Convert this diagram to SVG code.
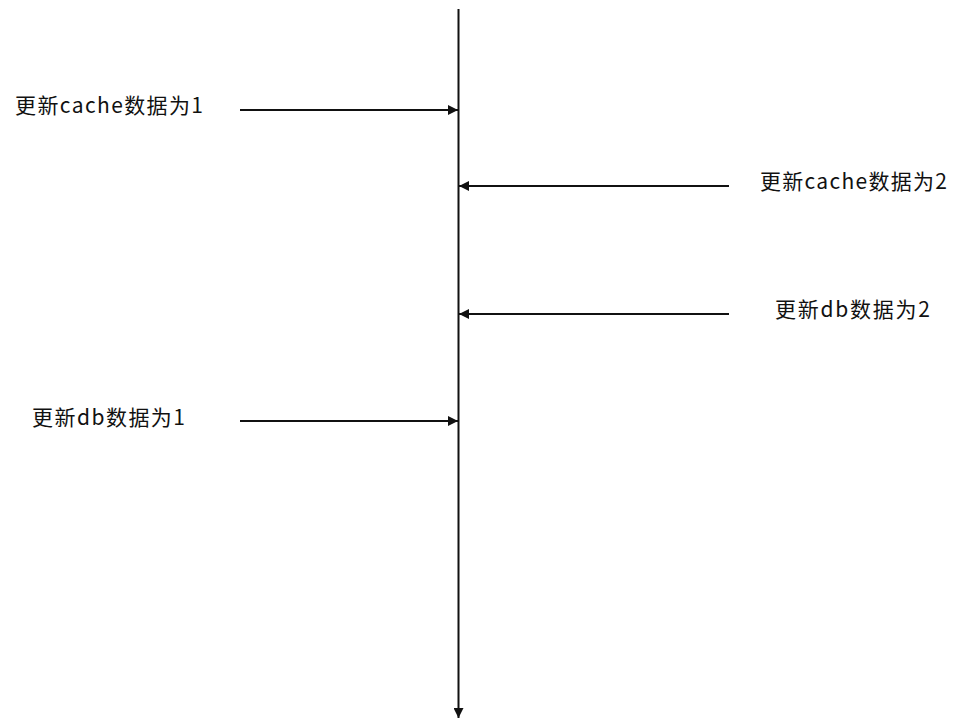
<svg xmlns="http://www.w3.org/2000/svg" width="962" height="726" viewBox="0 0 962 726">
<style>
.l{stroke:#111;stroke-width:2;fill:none}
.t{font-family:"Noto Sans CJK SC","Liberation Sans",sans-serif;font-size:21px;fill:#111}
</style>
<defs>
<marker id="a" viewBox="0 0 10 10" refX="10" refY="5" markerWidth="5.5" markerHeight="5" orient="auto" markerUnits="strokeWidth">
<path d="M0,0 L10,5 L0,10 z" fill="#111"/>
</marker>
</defs>
<rect width="962" height="726" fill="#fff"/>
<g id="connectors">
<line class="l" x1="458.5" y1="9" x2="458.5" y2="718" marker-end="url(#a)"/>
<line class="l" x1="240" y1="110" x2="458" y2="110" marker-end="url(#a)"/>
<line class="l" x1="729" y1="186" x2="459" y2="186" marker-end="url(#a)"/>
<line class="l" x1="729" y1="314" x2="459" y2="314" marker-end="url(#a)"/>
<line class="l" x1="240" y1="421" x2="458" y2="421" marker-end="url(#a)"/>
</g>
<g id="n1"><text class="t" x="15" y="113" textLength="188" lengthAdjust="spacing">更新cache数据为1</text></g>
<g id="n2"><text class="t" x="760" y="189" textLength="187" lengthAdjust="spacing">更新cache数据为2</text></g>
<g id="n3"><text class="t" x="775" y="317" textLength="155" lengthAdjust="spacing">更新db数据为2</text></g>
<g id="n4"><text class="t" x="32" y="425" textLength="153" lengthAdjust="spacing">更新db数据为1</text></g>
</svg>
